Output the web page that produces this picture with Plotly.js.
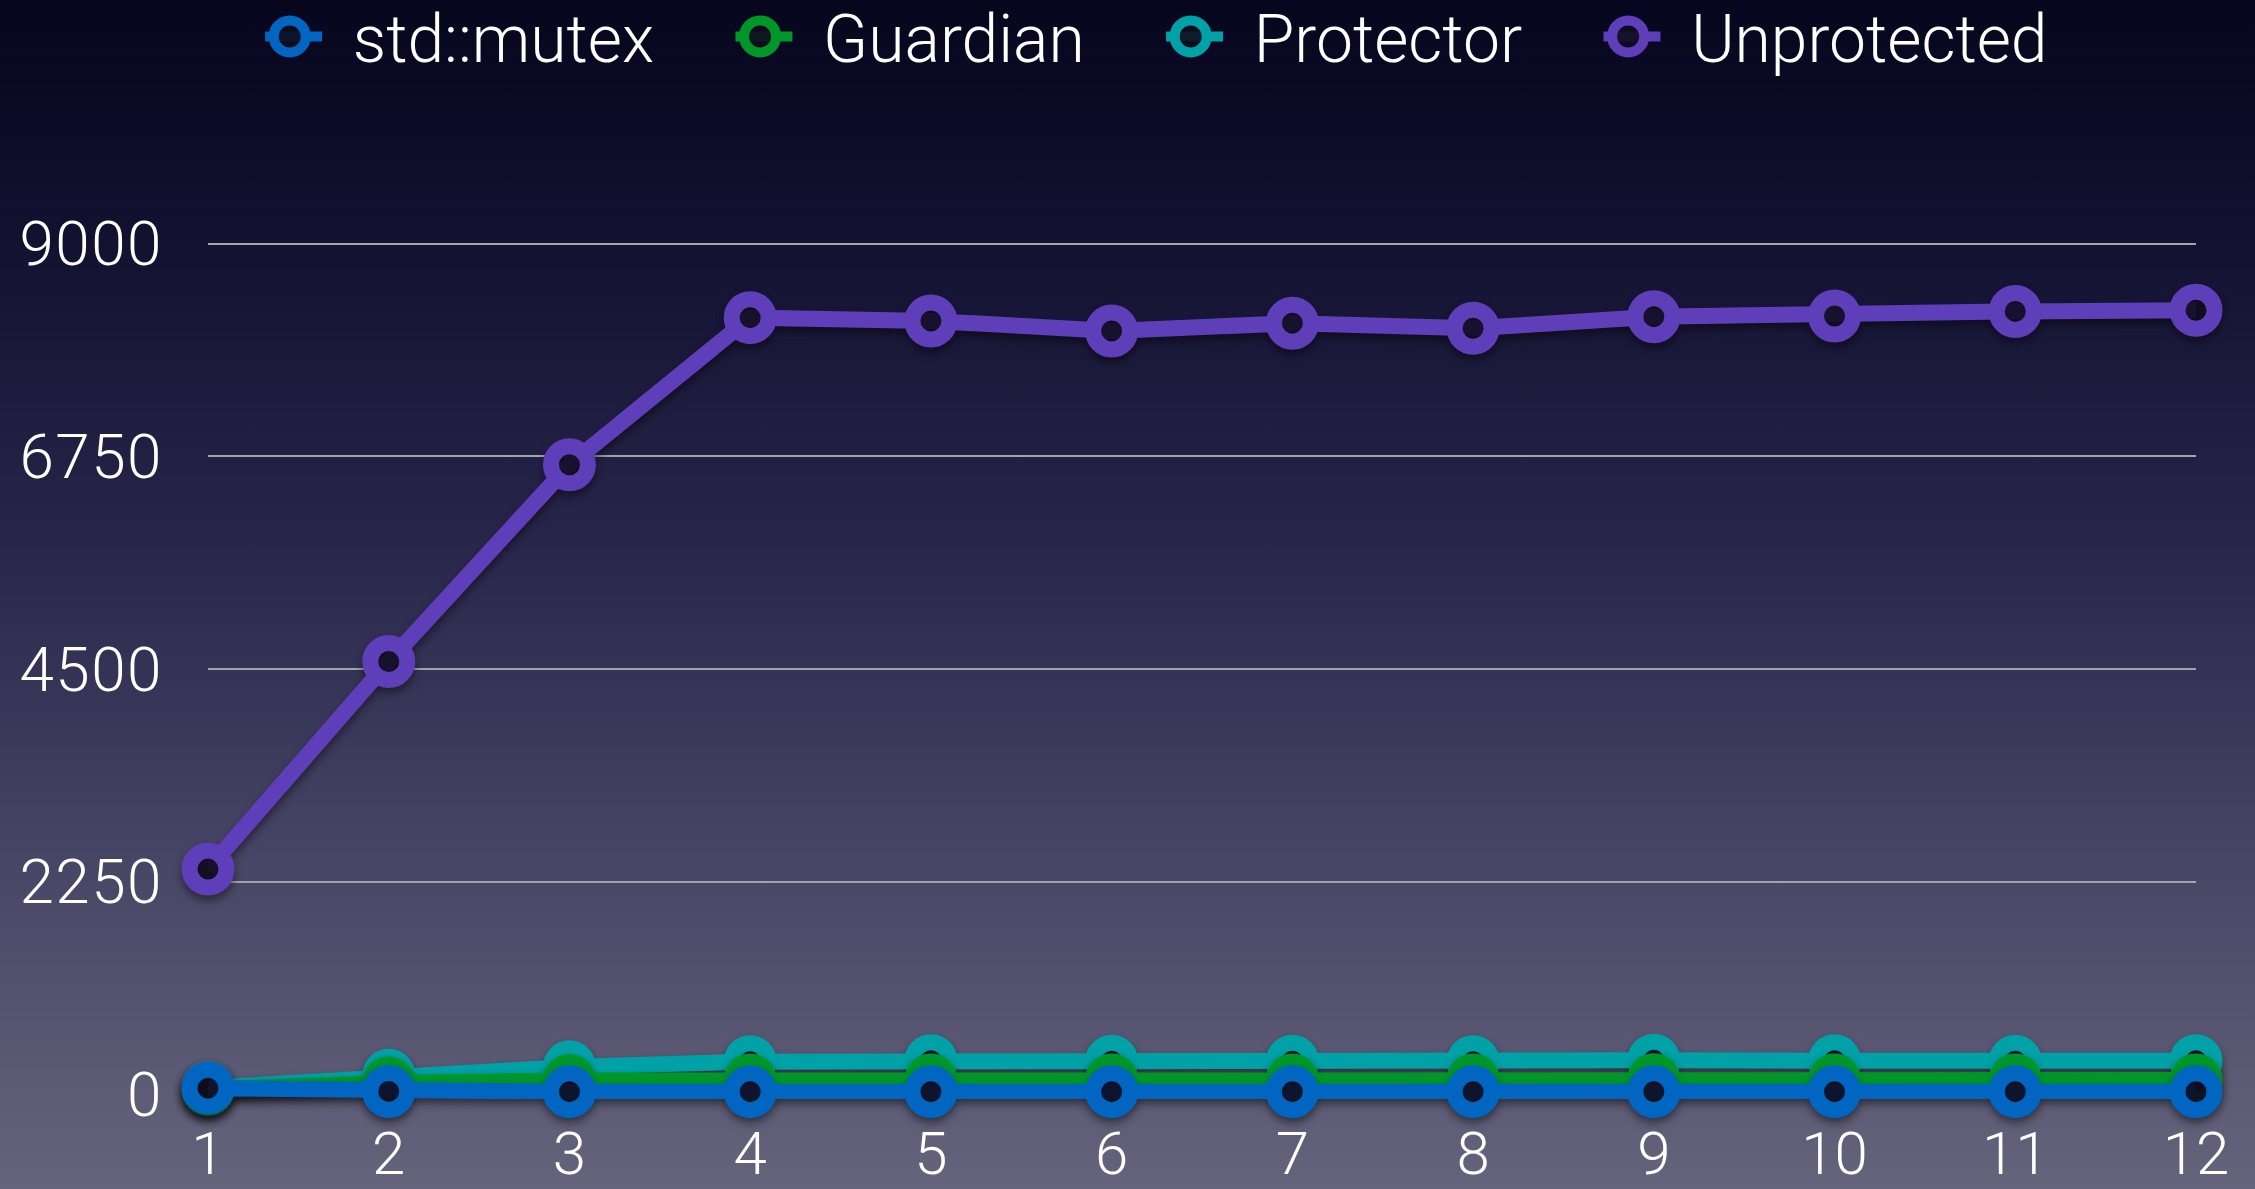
<!DOCTYPE html>
<html>
<head>
<meta charset="utf-8">
<script src="https://cdn.plot.ly/plotly-3.0.1.min.js"></script>
<style>
  html, body { margin: 0; padding: 0; }
  body {
    width: 2255px; height: 1189px; overflow: hidden;
    background: linear-gradient(to bottom, #07061e 0%, #121130 20%, #27264a 45%, #454363 70%, #66647c 100%);
  }
  #chart { width: 2255px; height: 1189px; }
  .js-plotly-plot .scatterlayer .trace { filter: drop-shadow(0px 5px 4px rgba(0,0,0,0.45)); }
  /* legend symbols: bigger ring, short line stubs, placed before the text */
  .js-plotly-plot .legend .traces .legendpoints {
    transform-origin: 77px 0px;
    transform: translate(14px, 0px) scale(2);
  }
  .js-plotly-plot .legend .traces .legendlines {
    transform-origin: 77px 0px;
    transform: translate(26px, 0px) scale(0.37, 1);
  }
  .js-plotly-plot .legend .traces .legendlines path { stroke-width: 10px !important; }
  .js-plotly-plot .ytick text { letter-spacing: 1.5px; }
</style>
</head>
<body>
<div id="chart"></div>
<script>
// ---- data ----
const threads = [1, 2, 3, 4, 5, 6, 7, 8, 9, 10, 11, 12];
const seriesNames = ['std::mutex', 'Guardian', 'Protector', 'Unprotected'];
const mutexVals = [65, 30, 28, 28, 28, 28, 28, 28, 28, 28, 28, 28];
const guardianVals = [50, 120, 145, 150, 150, 150, 150, 150, 155, 150, 150, 150];
const protectorVals = [70, 200, 290, 345, 355, 350, 350, 345, 360, 355, 350, 355];
const unprotectedVals = [2383, 4579, 6661, 8218, 8183, 8077, 8159, 8106, 8228, 8235, 8284, 8295];
const yTicks = [0, 2250, 4500, 6750, 9000];
const seriesColors = ['#0066c2', '#00962a', '#00a1a7', '#5f3fb9'];

const seriesValues = [mutexVals, guardianVals, protectorVals, unprotectedVals];

function makeTrace(i) {
  return {
    type: 'scatter',
    mode: 'lines+markers',
    name: seriesNames[i],
    x: threads,
    y: seriesValues[i],
    cliponaxis: false,
    line: { color: seriesColors[i], width: 16 },
    marker: {
      symbol: 'circle',
      size: 37,
      color: 'rgba(14,12,30,0.9)',
      line: { color: seriesColors[i], width: 16 }
    },
    hoverinfo: 'skip'
  };
}

// drawing order: Unprotected at the bottom, std::mutex on top
const traces = [3, 2, 1, 0].map(makeTrace);

const fontFamily = 'Roboto, "Helvetica Neue", Arial, sans-serif';

const layout = {
  width: 2255,
  height: 1189,
  paper_bgcolor: 'rgba(0,0,0,0)',
  plot_bgcolor: 'rgba(0,0,0,0)',
  margin: { l: 208, r: 59, t: 239, b: 90, autoexpand: false },
  font: { family: fontFamily, color: '#ffffff', size: 60, weight: 300 },
  showlegend: true,
  legend: {
    orientation: 'h',
    traceorder: 'reversed',
    x: 0.497, xanchor: 'center',
    xref: 'container',
    y: 1.293, yanchor: 'top',
    yref: 'paper',
    font: { family: fontFamily, color: '#ffffff', size: 66, weight: 300 },
    itemwidth: 154,
    bgcolor: 'rgba(0,0,0,0)'
  },
  xaxis: {
    range: [1, 12],
    tickmode: 'array',
    tickvals: threads,
    ticktext: threads.map(String),
    showgrid: false,
    zeroline: false,
    showline: false,
    ticks: '',
    ticklabelstandoff: 14,
    tickfont: { family: fontFamily, color: '#ffffff', size: 60, weight: 300 }
  },
  yaxis: {
    range: [-50, 9050],
    tickmode: 'array',
    tickvals: yTicks,
    ticktext: yTicks.map(String),
    showgrid: true,
    gridcolor: '#a3a3a8',
    gridwidth: 2,
    zeroline: false,
    showline: false,
    ticks: '',
    ticklabelstandoff: 44,
    tickfont: { family: fontFamily, color: '#ffffff', size: 62, weight: 300 }
  }
};

Plotly.newPlot('chart', traces, layout, { staticPlot: true, displayModeBar: false });
</script>
</body>
</html>
